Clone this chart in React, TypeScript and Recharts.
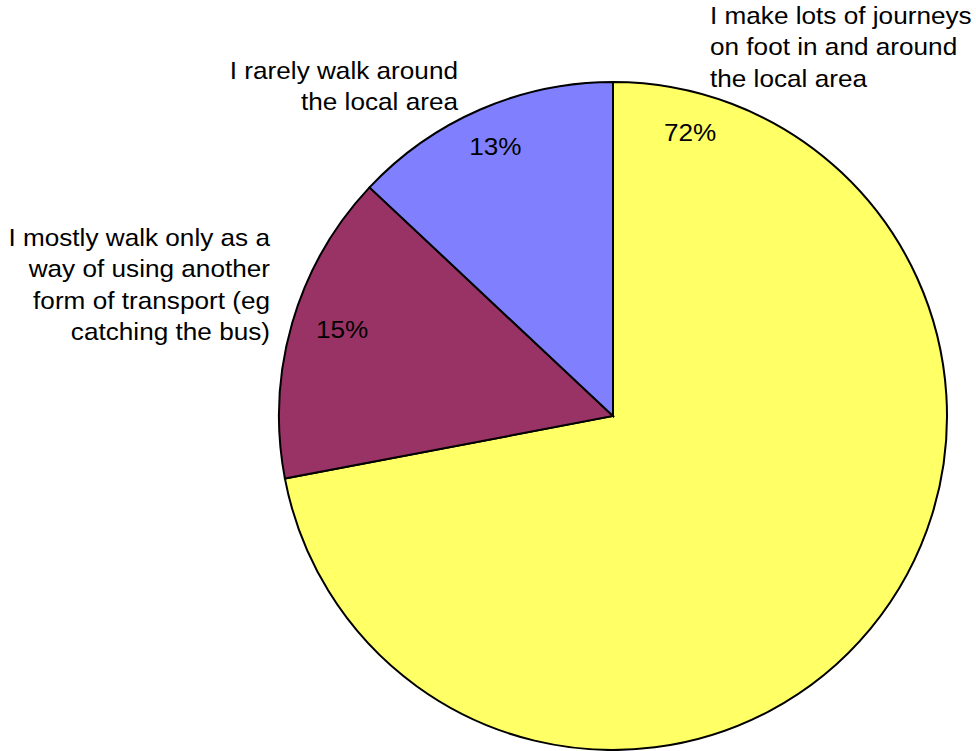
import React from "react";
import { PieChart, Pie, Cell } from "recharts";

const categories = [
  "I make lots of journeys on foot in and around the local area",
  "I mostly walk only as a way of using another form of transport (eg catching the bus)",
  "I rarely walk around the local area",
];
const values = [72, 15, 13];
const labelLines = [
  ["I make lots of journeys", "on foot in and around", "the local area"],
  ["I mostly walk only as a", "way of using another", "form of transport (eg", "catching the bus)"],
  ["I rarely walk around", "the local area"],
];
const colors = ["#FFFF66", "#993366", "#8080FF"];

// label layout (relative to pie centre / radius)
const pctLayout = [
  { angle: 74.8, rf: 0.88 },
  { angle: 162.2, rf: 0.852 },
  { angle: 113.6, rf: 0.88 },
];
const catLayout = [
  { dx: 97, dy: -392, anchor: "start" },
  { dx: -343, dy: -170, anchor: "end" },
  { dx: -155, dy: -337, anchor: "end" },
];

const data = categories.map((c, i) => ({ name: c, value: values[i] }));

const FONT = "'Liberation Sans', Arial, sans-serif";
const RAD = Math.PI / 180;
const FS = 24;
const SX = 1.09;

const renderLabel = (props: any) => {
  const { cx, cy, outerRadius, percent, index } = props;
  const p = pctLayout[index];
  const c = catLayout[index];
  const px = cx + outerRadius * p.rf * Math.cos(p.angle * RAD);
  const py = cy - outerRadius * p.rf * Math.sin(p.angle * RAD);
  return (
    <g key={`lbl-${index}`}>
      <g transform={`translate(${px},${py}) scale(${SX},1)`}>
        <text
          x={0}
          y={0}
          textAnchor="middle"
          dominantBaseline="central"
          fontFamily={FONT}
          fontSize={FS}
          fill="#000"
        >
          {`${Math.round(percent * 100)}%`}
        </text>
      </g>
      <g transform={`translate(${cx + c.dx},${cy + c.dy}) scale(${SX},1)`}>
        <text
          x={0}
          y={0}
          textAnchor={c.anchor as any}
          fontFamily={FONT}
          fontSize={FS}
          fill="#000"
        >
          {labelLines[index].map((l, j) => (
            <tspan key={j} x={0} dy={j === 0 ? 0 : 31.5}>
              {l}
            </tspan>
          ))}
        </text>
      </g>
    </g>
  );
};

export default function App() {
  return (
    <div style={{ position: "absolute", left: 0, top: 0, width: 976, height: 751, background: "#fff" }}>
      <PieChart width={976} height={751} margin={{ top: 0, right: 0, bottom: 0, left: 0 }}>
        <Pie
          data={data}
          dataKey="value"
          nameKey="name"
          cx={613}
          cy={416}
          outerRadius={334}
          startAngle={90}
          endAngle={-270}
          stroke="#000"
          strokeWidth={2}
          labelLine={false}
          label={renderLabel}
          isAnimationActive={false}
        >
          {data.map((d, i) => (
            <Cell key={i} fill={colors[i]} />
          ))}
        </Pie>
      </PieChart>
    </div>
  );
}
